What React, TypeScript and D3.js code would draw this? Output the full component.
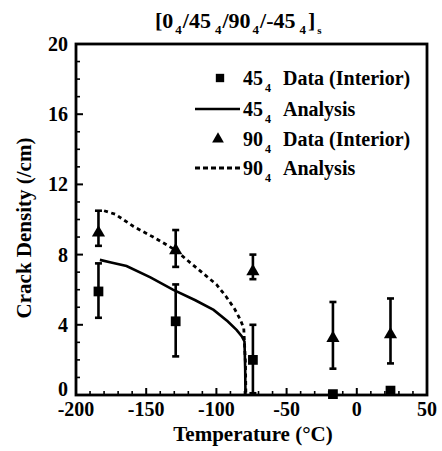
import React from 'react';
import * as d3 from 'd3';

// 45_4 ply data (interior), with error bars
const temps45 = [-184, -129, -74, -17, 24];
const crack45 = [5.9, 4.2, 2.0, 0.05, 0.25];
const low45 = [4.4, 2.2, 0.1, null, null];
const high45 = [7.5, 6.3, 4.0, null, null];

// 90_4 ply data (interior)
const temps90 = [-184, -129, -74, -17, 24];
const crack90 = [9.3, 8.3, 7.1, 3.3, 3.5];
const low90 = [8.5, 7.3, 6.6, 1.5, 1.8];
const high90 = [10.5, 9.4, 8.0, 5.3, 5.5];

// analysis curves
const anaTemps45 = [-183, -175, -164, -147, -131, -115, -102, -92, -85.5, -82, -80, -79.5, -79.3];
const anaCrack45 = [7.7, 7.55, 7.35, 6.7, 6.0, 5.4, 4.85, 4.2, 3.7, 3.35, 3.05, 1.5, 0];
const anaTemps90 = [-180, -172, -159, -145, -130, -118, -109, -100, -93, -87, -83, -80.5, -79.3, -79];
const anaCrack90 = [10.5, 10.3, 9.6, 9.0, 8.3, 7.5, 6.9, 6.3, 5.6, 4.9, 4.3, 3.8, 1.8, 0];

const xTicks = [-200, -150, -100, -50, 0, 50];
const yTicks = [0, 4, 8, 12, 16, 20];

const W = 442;
const H = 451;
const margin = { left: 76, right: 15, top: 44, bottom: 56 };
const font = '"Liberation Serif", "DejaVu Serif", serif';

const App = () => {
  const x = d3.scaleLinear().domain([-200, 50]).range([margin.left, W - margin.right]);
  const y = d3.scaleLinear().domain([0, 20]).range([H - margin.bottom, margin.top]);

  const line = d3
    .line<[number, number]>()
    .x(d => x(d[0]))
    .y(d => y(d[1]));

  const ana45 = anaTemps45.map((t, i) => [t, anaCrack45[i]] as [number, number]);
  const ana90 = anaTemps90.map((t, i) => [t, anaCrack90[i]] as [number, number]);

  const square = d3.symbol(d3.symbolSquare, 95)();
  const triangle = d3.symbol(d3.symbolTriangle, 75)();

  const minorX = d3.range(-190, 50, 10).filter(v => v % 50 !== 0);
  const minorY = d3.range(1, 20, 1).filter(v => v % 4 !== 0);

  const [x0, x1] = x.range();
  const [y0, y1] = y.range();

  const errBar = (t: number, lo: number | null, hi: number | null, key: string) =>
    lo == null || hi == null ? null : (
      <g key={key} stroke="#000" strokeWidth={2.6}>
        <line x1={x(t)} x2={x(t)} y1={y(lo)} y2={y(hi)} />
        <line x1={x(t) - 3.5} x2={x(t) + 3.5} y1={y(lo)} y2={y(lo)} />
        <line x1={x(t) - 3.5} x2={x(t) + 3.5} y1={y(hi)} y2={y(hi)} />
      </g>
    );

  const legendX = 243;
  const legendTextX = 283;
  const legendRows = [78, 109, 139, 168];

  const legendLabel = (main: string, rest: string, row: number) => (
    <text x={legendX} y={row + 7}>
      <tspan>{main}</tspan>
      <tspan fontSize={12} dx={2} dy={7}>4</tspan>
      <tspan x={legendTextX} dy={-7}>{rest}</tspan>
    </text>
  );

  return (
    <svg width={W} height={H} style={{ position: 'absolute', left: 0, top: 0, background: '#fff' }}>
      <rect width={W} height={H} fill="#fff" />
      {/* title */}
      <text x={155} y={28} fontFamily={font} fontSize={22} fontWeight="bold">
        <tspan>[0</tspan>
        <tspan fontSize={13} dx={2} dy={6}>4</tspan>
        <tspan dx={1} dy={-6}>/45</tspan>
        <tspan fontSize={13} dx={4} dy={6}>4</tspan>
        <tspan dx={1} dy={-6}>/90</tspan>
        <tspan fontSize={13} dx={2} dy={6}>4</tspan>
        <tspan dx={1} dy={-6}>/-45</tspan>
        <tspan fontSize={13} dx={4} dy={6}>4</tspan>
        <tspan dx={2} dy={-6}>]</tspan>
        <tspan fontSize={11} dx={2} dy={6}>s</tspan>
      </text>

      {/* ticks */}
      <g stroke="#000">
        {xTicks.map(v => (
          <line key={'xt' + v} x1={x(v)} x2={x(v)} y1={y0} y2={y0 - 7} strokeWidth={2} />
        ))}
        {minorX.map(v => (
          <line key={'xm' + v} x1={x(v)} x2={x(v)} y1={y0} y2={y0 - 4} strokeWidth={1.6} />
        ))}
        {yTicks.map(v => (
          <line key={'yt' + v} x1={x0} x2={x0 + 7} y1={y(v)} y2={y(v)} strokeWidth={2} />
        ))}
        {minorY.map(v => (
          <line key={'ym' + v} x1={x0} x2={x0 + 4} y1={y(v)} y2={y(v)} strokeWidth={1.6} />
        ))}
      </g>

      {/* frame */}
      <rect x={x0} y={y1} width={x1 - x0} height={y0 - y1} fill="none" stroke="#000" strokeWidth={2.8} />

      {/* tick labels */}
      <g fontFamily={font} fontSize={20} fontWeight="bold">
        {xTicks.map(v => (
          <text key={'xl' + v} x={x(v)} y={y0 + 21} textAnchor="middle">
            {v}
          </text>
        ))}
        {yTicks.map(v => (
          <text key={'yl' + v} x={x0 - 8} y={v === 0 ? y(v) + 1 : y(v) + 7} textAnchor="end">
            {v}
          </text>
        ))}
      </g>

      {/* axis titles */}
      <text x={253} y={441} textAnchor="middle" fontFamily={font} fontSize={21} fontWeight="bold">
        Temperature (°C)
      </text>
      <text
        transform={`translate(31, 228) rotate(-90)`}
        textAnchor="middle"
        fontFamily={font}
        fontSize={21}
        fontWeight="bold"
      >
        Crack Density (/cm)
      </text>

      {/* analysis curves */}
      <path d={line(ana45) || ''} fill="none" stroke="#000" strokeWidth={2.6} />
      <path d={line(ana90) || ''} fill="none" stroke="#000" strokeWidth={2.8} strokeDasharray="4 3.5" />

      {/* error bars */}
      {temps45.map((t, i) => errBar(t, low45[i], high45[i], 'e45' + i))}
      {temps90.map((t, i) => errBar(t, low90[i], high90[i], 'e90' + i))}

      {/* markers */}
      {temps45.map((t, i) => (
        <path key={'s' + i} d={square || ''} transform={`translate(${x(t)},${y(crack45[i])})`} fill="#000" />
      ))}
      {temps90.map((t, i) => (
        <path key={'t' + i} d={triangle || ''} transform={`translate(${x(t)},${y(crack90[i]) + 1})`} fill="#000" />
      ))}

      {/* legend */}
      <g fontFamily={font} fontSize={20} fontWeight="bold">
        <path d={d3.symbol(d3.symbolSquare, 70)() || ''} transform={`translate(220,${legendRows[0]})`} fill="#000" />
        {legendLabel('45', 'Data (Interior)', legendRows[0])}
        <line x1={195} x2={240} y1={legendRows[1]} y2={legendRows[1]} stroke="#000" strokeWidth={2.6} />
        {legendLabel('45', 'Analysis', legendRows[1])}
        <path d={d3.symbol(d3.symbolTriangle, 60)() || ''} transform={`translate(218,${legendRows[2]})`} fill="#000" />
        {legendLabel('90', 'Data (Interior)', legendRows[2])}
        <line
          x1={195}
          x2={240}
          y1={legendRows[3]}
          y2={legendRows[3]}
          stroke="#000"
          strokeWidth={2.8}
          strokeDasharray="5 3"
        />
        {legendLabel('90', 'Analysis', legendRows[3])}
      </g>
    </svg>
  );
};

export default App;
